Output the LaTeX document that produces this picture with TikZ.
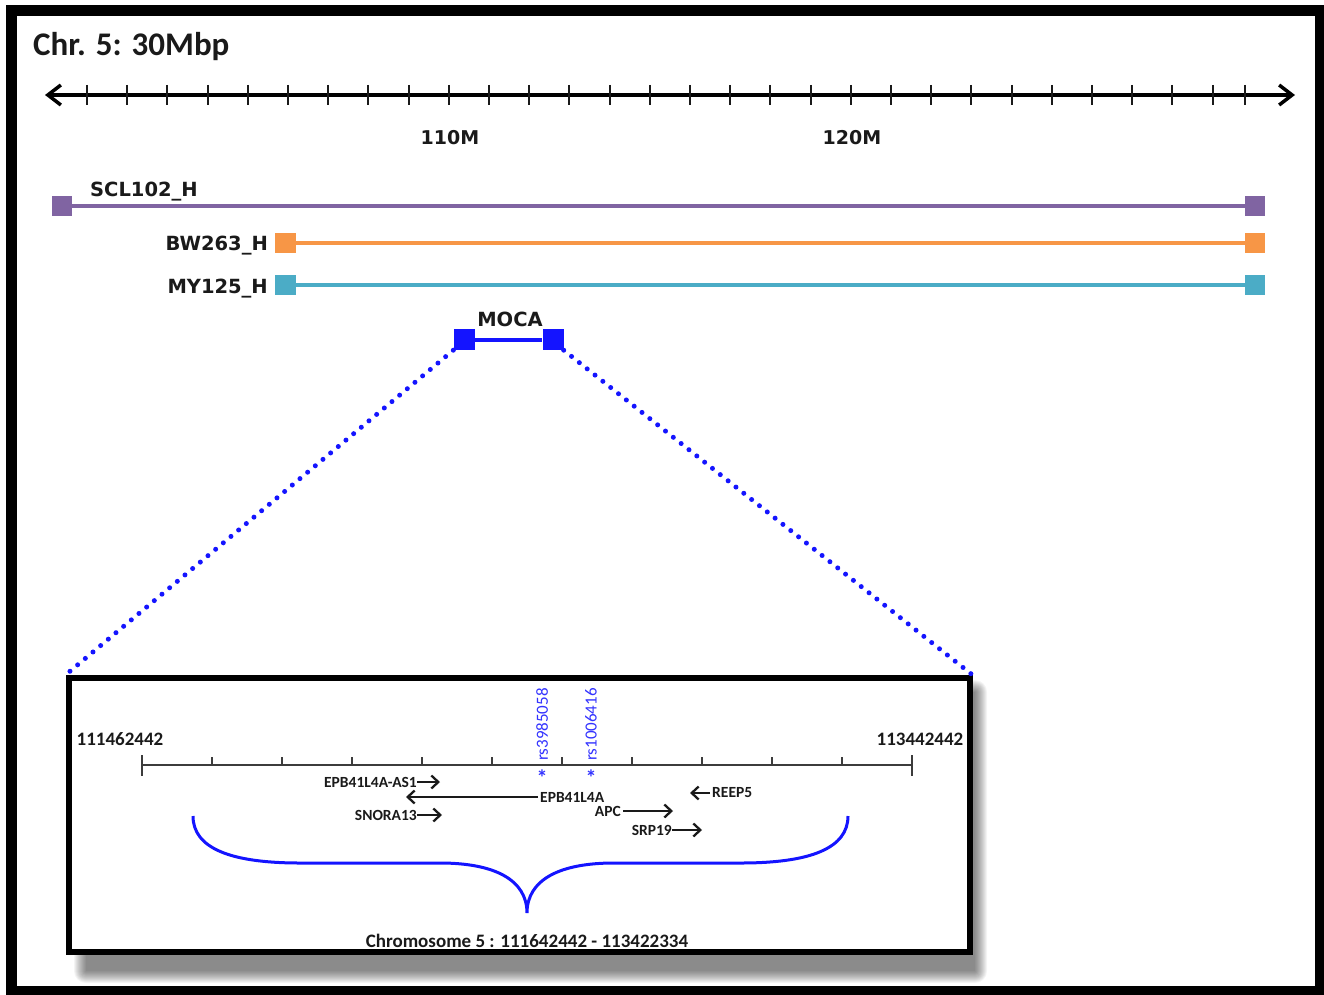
\documentclass[tikz,border=0pt]{standalone}
\usepackage{fontspec}
\setmainfont{Carlito}
\newfontfamily\dvs{DejaVu Sans}
\usetikzlibrary{arrows.meta}
\definecolor{purp}{HTML}{8064A2}
\definecolor{orng}{HTML}{F79646}
\definecolor{tealc}{HTML}{4BACC6}
\definecolor{mblue}{HTML}{1414FF}
\definecolor{snpblue}{HTML}{3333FF}
\definecolor{ink}{HTML}{1A1A1A}
\tikzset{
  sq/.style={rectangle, minimum size=20.5pt, inner sep=0pt, draw=none},
  trk/.style={line width=4pt},
  lbl/.style={inner sep=0pt, font=\dvs\bfseries\fontsize{19.5}{21}\selectfont, text=ink},
  axlbl/.style={inner sep=0pt, font=\dvs\bfseries\fontsize{19}{21}\selectfont, text=ink},
  gl/.style={inner sep=0pt, font=\bfseries\fontsize{15.5}{17}\selectfont, text=ink},
  numl/.style={inner sep=0pt, font=\bfseries\fontsize{19}{21}\selectfont, text=ink},
  snp/.style={inner sep=0pt, font=\fontsize{17}{19}\selectfont, text=snpblue},
  astl/.style={inner sep=0pt, font=\bfseries\fontsize{22}{24}\selectfont, text=snpblue},
  garrow/.style={line width=2.3pt, ink, -{Straight Barb[length=7pt,width=13pt]}},
  dotline/.style={mblue, line width=5pt, line cap=round, dash pattern=on 0pt off 10pt},
}
\begin{document}
\begin{tikzpicture}[x=1pt,y=-1pt]
\useasboundingbox (0,0) rectangle (1324,995);
\fill[white] (0,0) rectangle (1324,995);
% outer frame
\draw[line width=11pt] (11,11) rectangle (1320,991);
% title
\node[anchor=west, inner sep=0pt, font=\bfseries\fontsize{33}{36}\selectfont, text=ink] (title) at (33,47) {Chr. 5: 30Mbp};
% axis
\coordinate (axL) at (45,95);
\coordinate (axR) at (1295,95);
\draw[line width=3.5pt, {Straight Barb[length=13pt,width=20pt]}-{Straight Barb[length=13pt,width=20pt]}] (axL) -- (axR);
\foreach \i in {0,...,28} \draw[line width=2pt, ink] ({87+\i*40.2},85) -- ({87+\i*40.2},105);
\draw[line width=2pt, ink] (1245,85) -- (1245,105);
\node[axlbl] (l110) at (450,138) {110M};
\node[axlbl] (l120) at (852,138) {120M};
% tracks
\node[sq, fill=purp] (a1) at (62,206) {};
\node[sq, fill=purp] (a2) at (1255,206) {};
\draw[trk, purp] (a1) -- (a2);
\node[lbl, anchor=west] (la) at (90,192) {SCL102\_H};
\node[sq, fill=orng] (b1) at (285.5,243) {};
\node[sq, fill=orng] (b2) at (1255,243) {};
\draw[trk, orng] (b1) -- (b2);
\node[lbl, anchor=east] (lb) at (268,246) {BW263\_H};
\node[sq, fill=tealc] (c1) at (285.5,285) {};
\node[sq, fill=tealc] (c2) at (1255,285) {};
\draw[trk, tealc] (c1) -- (c2);
\node[lbl, anchor=east] (lc) at (268,289) {MY125\_H};
% MOCA
\node[sq, fill=mblue, minimum size=21pt] (m1) at (464,339.5) {};
\node[sq, fill=mblue, minimum size=21pt] (m2) at (553,339.5) {};
\draw[trk, mblue] (m1) -- (m2);
\node[lbl] (lm) at (510,319) {MOCA};
% inset shadow
\foreach \k in {0,...,12} {
  \fill[black, opacity=0.045, rounded corners={\k pt}] ({86-\k},{692-\k}) rectangle ({975+\k},{971+\k});
}
% inset box
\node[draw=black, fill=white, line width=6pt, minimum width=901pt, minimum height=274pt, inner sep=0pt] (box) at (519,815) {};
% dotted zoom lines
\draw[dotline] (m1.south west) -- (box.north west);
\draw[dotline] (m2.south east) -- (box.north east);
% inset scale
\coordinate (sL) at (142,765);
\coordinate (sR) at (912,765);
\draw[line width=2pt, ink!85] (sL) -- (sR);
\draw[line width=2pt, ink!85] (142,755) -- (142,776);
\draw[line width=2pt, ink!85] (912,755) -- (912,776);
\foreach \i in {1,...,10} \draw[line width=2pt, ink!85] ({142+\i*70},757) -- ({142+\i*70},765);
\node[numl] (n1) at (120,739) {111462442};
\node[numl] (n2) at (920,739) {113442442};
% SNPs
\node[snp, rotate=90, anchor=west] (snp1) at (542,761) {rs3985058};
\node[snp, rotate=90, anchor=west] (snp2) at (591,761) {rs1006416};
\node[astl] (ast1) at (542,778) {*};
\node[astl] (ast2) at (591,778) {*};
% genes
\node[gl, anchor=east] (g1) at (417,782) {EPB41L4A-AS1};
\coordinate (g1e) at (440,782);
\draw[garrow] (g1.east) -- (g1e);
\node[gl, anchor=west] (g2) at (540,797) {EPB41L4A};
\coordinate (g2e) at (406,797);
\draw[garrow] ([xshift=-2pt]g2.west) -- (g2e);
\node[gl, anchor=east] (g3) at (417,815) {SNORA13};
\coordinate (g3e) at (442,815);
\draw[garrow] (g3.east) -- (g3e);
\node[gl, anchor=west] (g4) at (712,793) {REEP5};
\coordinate (g4e) at (690,793);
\draw[garrow] ([xshift=-2pt]g4.west) -- (g4e);
\node[gl, anchor=east] (g5) at (621,811) {APC};
\coordinate (g5e) at (673,811);
\draw[garrow] ([xshift=2pt]g5.east) -- (g5e);
\node[gl, anchor=east] (g6) at (672,830) {SRP19};
\coordinate (g6e) at (702,830);
\draw[garrow] (g6.east) -- (g6e);
% brace
\coordinate (brL) at (193,816);
\coordinate (brM) at (527,913);
\coordinate (brR) at (848,816);
\draw[mblue, line width=3pt] (brL) .. controls (193,848) and (230,863) .. (300,863)
  -- (440,863) .. controls (495,863) and (527,880) .. (brM)
  .. controls (527,880) and (559,863) .. (614,863)
  -- (741,863) .. controls (811,863) and (848,848) .. (brR);
\node[numl] (chr) at (527,941) {Chromosome 5 : 111642442 - 113422334};
\end{tikzpicture}
\end{document}
